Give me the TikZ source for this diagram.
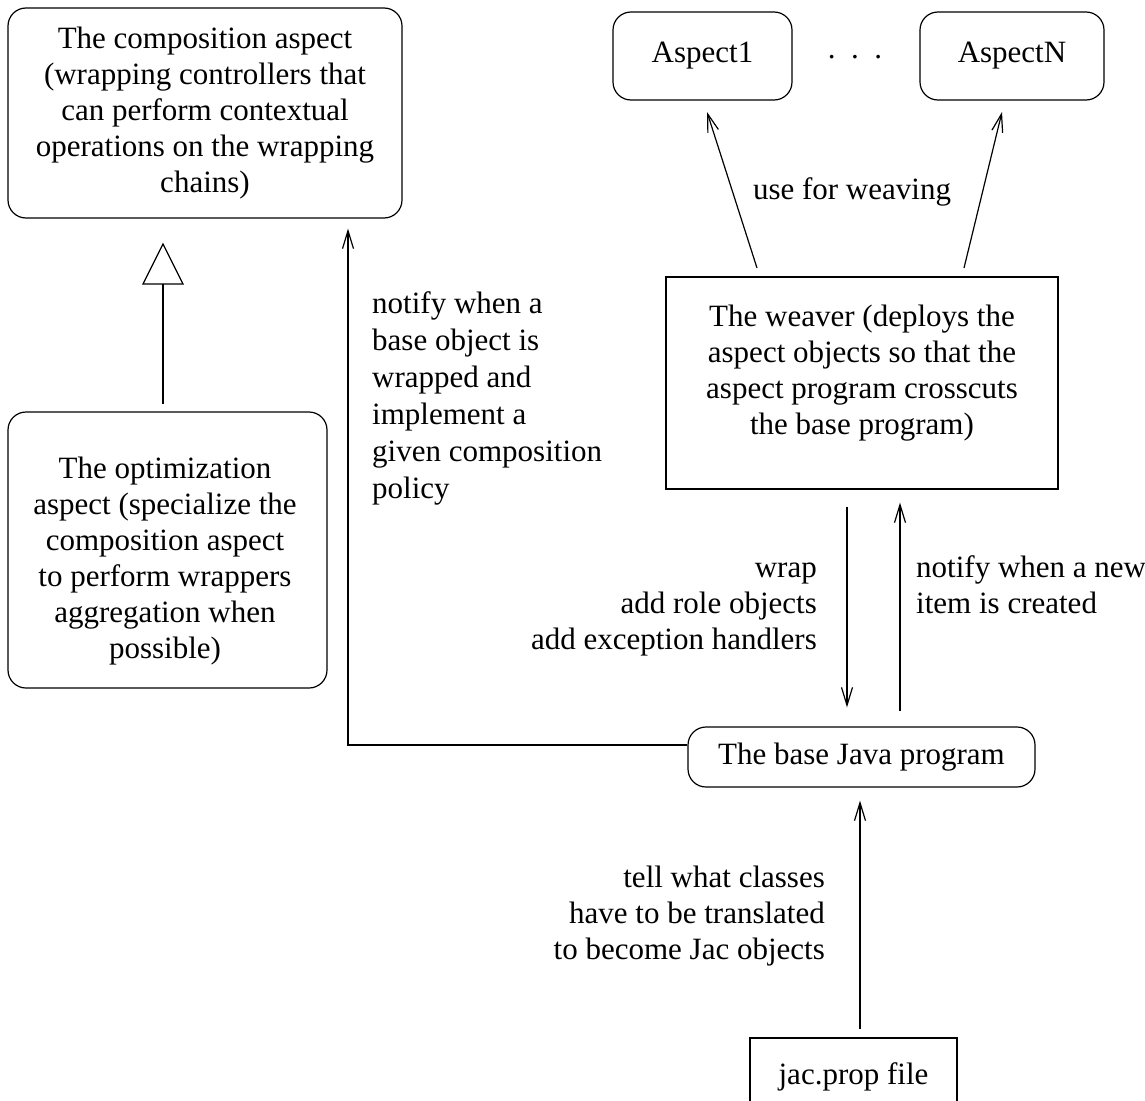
\documentclass[tikz,border=0pt]{standalone}
\usepackage{fontspec}
\setmainfont{Liberation Serif}
\usetikzlibrary{arrows.meta}
\begin{document}
\begin{tikzpicture}[x=1pt,y=-1pt,
  every node/.style={font=\fontsize{31}{36}\selectfont},
  rbox/.style={draw, line width=1.2pt, rounded corners=18pt, inner sep=0pt, align=center},
  sbox/.style={draw, line width=1.2pt, inner sep=0pt, align=center},
  lbl/.style={inner sep=0pt},
  arr/.style={line width=1.2pt, -{Straight Barb[length=18pt,width=11pt,line width=1.2pt]}},
  ln/.style={line width=1.2pt}]
\useasboundingbox (0,0) rectangle (1145,1100);

% boxes
\node[rbox, minimum width=394pt, minimum height=210pt] (comp) at (205,113)
  {The composition aspect\\(wrapping controllers that\\can perform contextual\\operations on the wrapping\\chains)};
\node[rbox, minimum width=319pt, minimum height=276pt] (opt) at (167.5,550) {};
\node[lbl, align=center] (opttext) at (165,561)
  {The optimization\\aspect (specialize the\\composition aspect\\to perform wrappers\\aggregation when\\possible)};
\node[rbox, minimum width=179pt, minimum height=88pt] (a1) at (702.5,56) {Aspect1};
\node[lbl] (dots) at (855,57) {.\ \ .\ \ .};
\node[rbox, minimum width=184pt, minimum height=88pt] (an) at (1012,56) {AspectN};
\node[sbox, minimum width=392pt, minimum height=212pt] (weaver) at (862,383) {};
\node[lbl, align=center] (weavertext) at (862,373)
  {The weaver (deploys the\\aspect objects so that the\\aspect program crosscuts\\the base program)};
\node[rbox, minimum width=347pt, minimum height=60pt] (base) at (861.5,757) {The base Java program};
\node[sbox, minimum width=207pt, minimum height=77pt] (jac) at (853.5,1076.5) {jac.prop file};

% inheritance: optimization specializes composition
\coordinate (tribase) at (163,284);
\coordinate (apex) at (163,244);
\draw[ln, shorten <=7pt] (opt.north -| tribase) -- (tribase);
\draw[ln, line join=miter] ([xshift=-20pt]tribase) -- (apex) -- ([xshift=20pt]tribase) -- cycle;

% base program notifies the composition aspect
\coordinate (corner) at (348,745);
\draw[arr, line join=miter, shorten >=10pt] ([yshift=12pt]base.west) -- (corner) -- (corner |- comp.south);
\node[lbl, align=left, anchor=north west, font=\fontsize{31}{37}\selectfont] (notifylbl) at (372,291)
  {notify when a\\base object is\\wrapped and\\implement a\\given composition\\policy};

% weaver uses the aspects
\coordinate (w1) at (757,268);
\coordinate (w2) at (964,268);
\coordinate (t1) at (707,112);
\coordinate (t2) at (1002,112);
\draw[arr] (w1) -- (t1);
\draw[arr] (w2) -- (t2);
\node[lbl] (uselbl) at (852,192) {use for weaving};

% weaver <-> base program
\coordinate (dtop) at (847,0);
\coordinate (utop) at (900,0);
\draw[arr, shorten <=17pt, shorten >=19pt] (weaver.south -| dtop) -- (base.north -| dtop);
\draw[arr, shorten <=15pt, shorten >=13pt] (base.north -| utop) -- (weaver.south -| utop);
\node[lbl, align=right, anchor=east] (wraplbl) at (817,609)
  {wrap\\add role objects\\add exception handlers};
\node[lbl, align=left, anchor=north west] (newlbl) at (916,555)
  {notify when a new\\item is created};

% jac.prop file -> base program
\coordinate (jtop) at (860,0);
\draw[arr, shorten <=8pt, shorten >=13pt] (jac.north -| jtop) -- (base.south -| jtop);
\node[lbl, align=right, anchor=east] (taillbl) at (825,916)
  {tell what classes\\have to be translated\\to become Jac objects};
\end{tikzpicture}
\end{document}
